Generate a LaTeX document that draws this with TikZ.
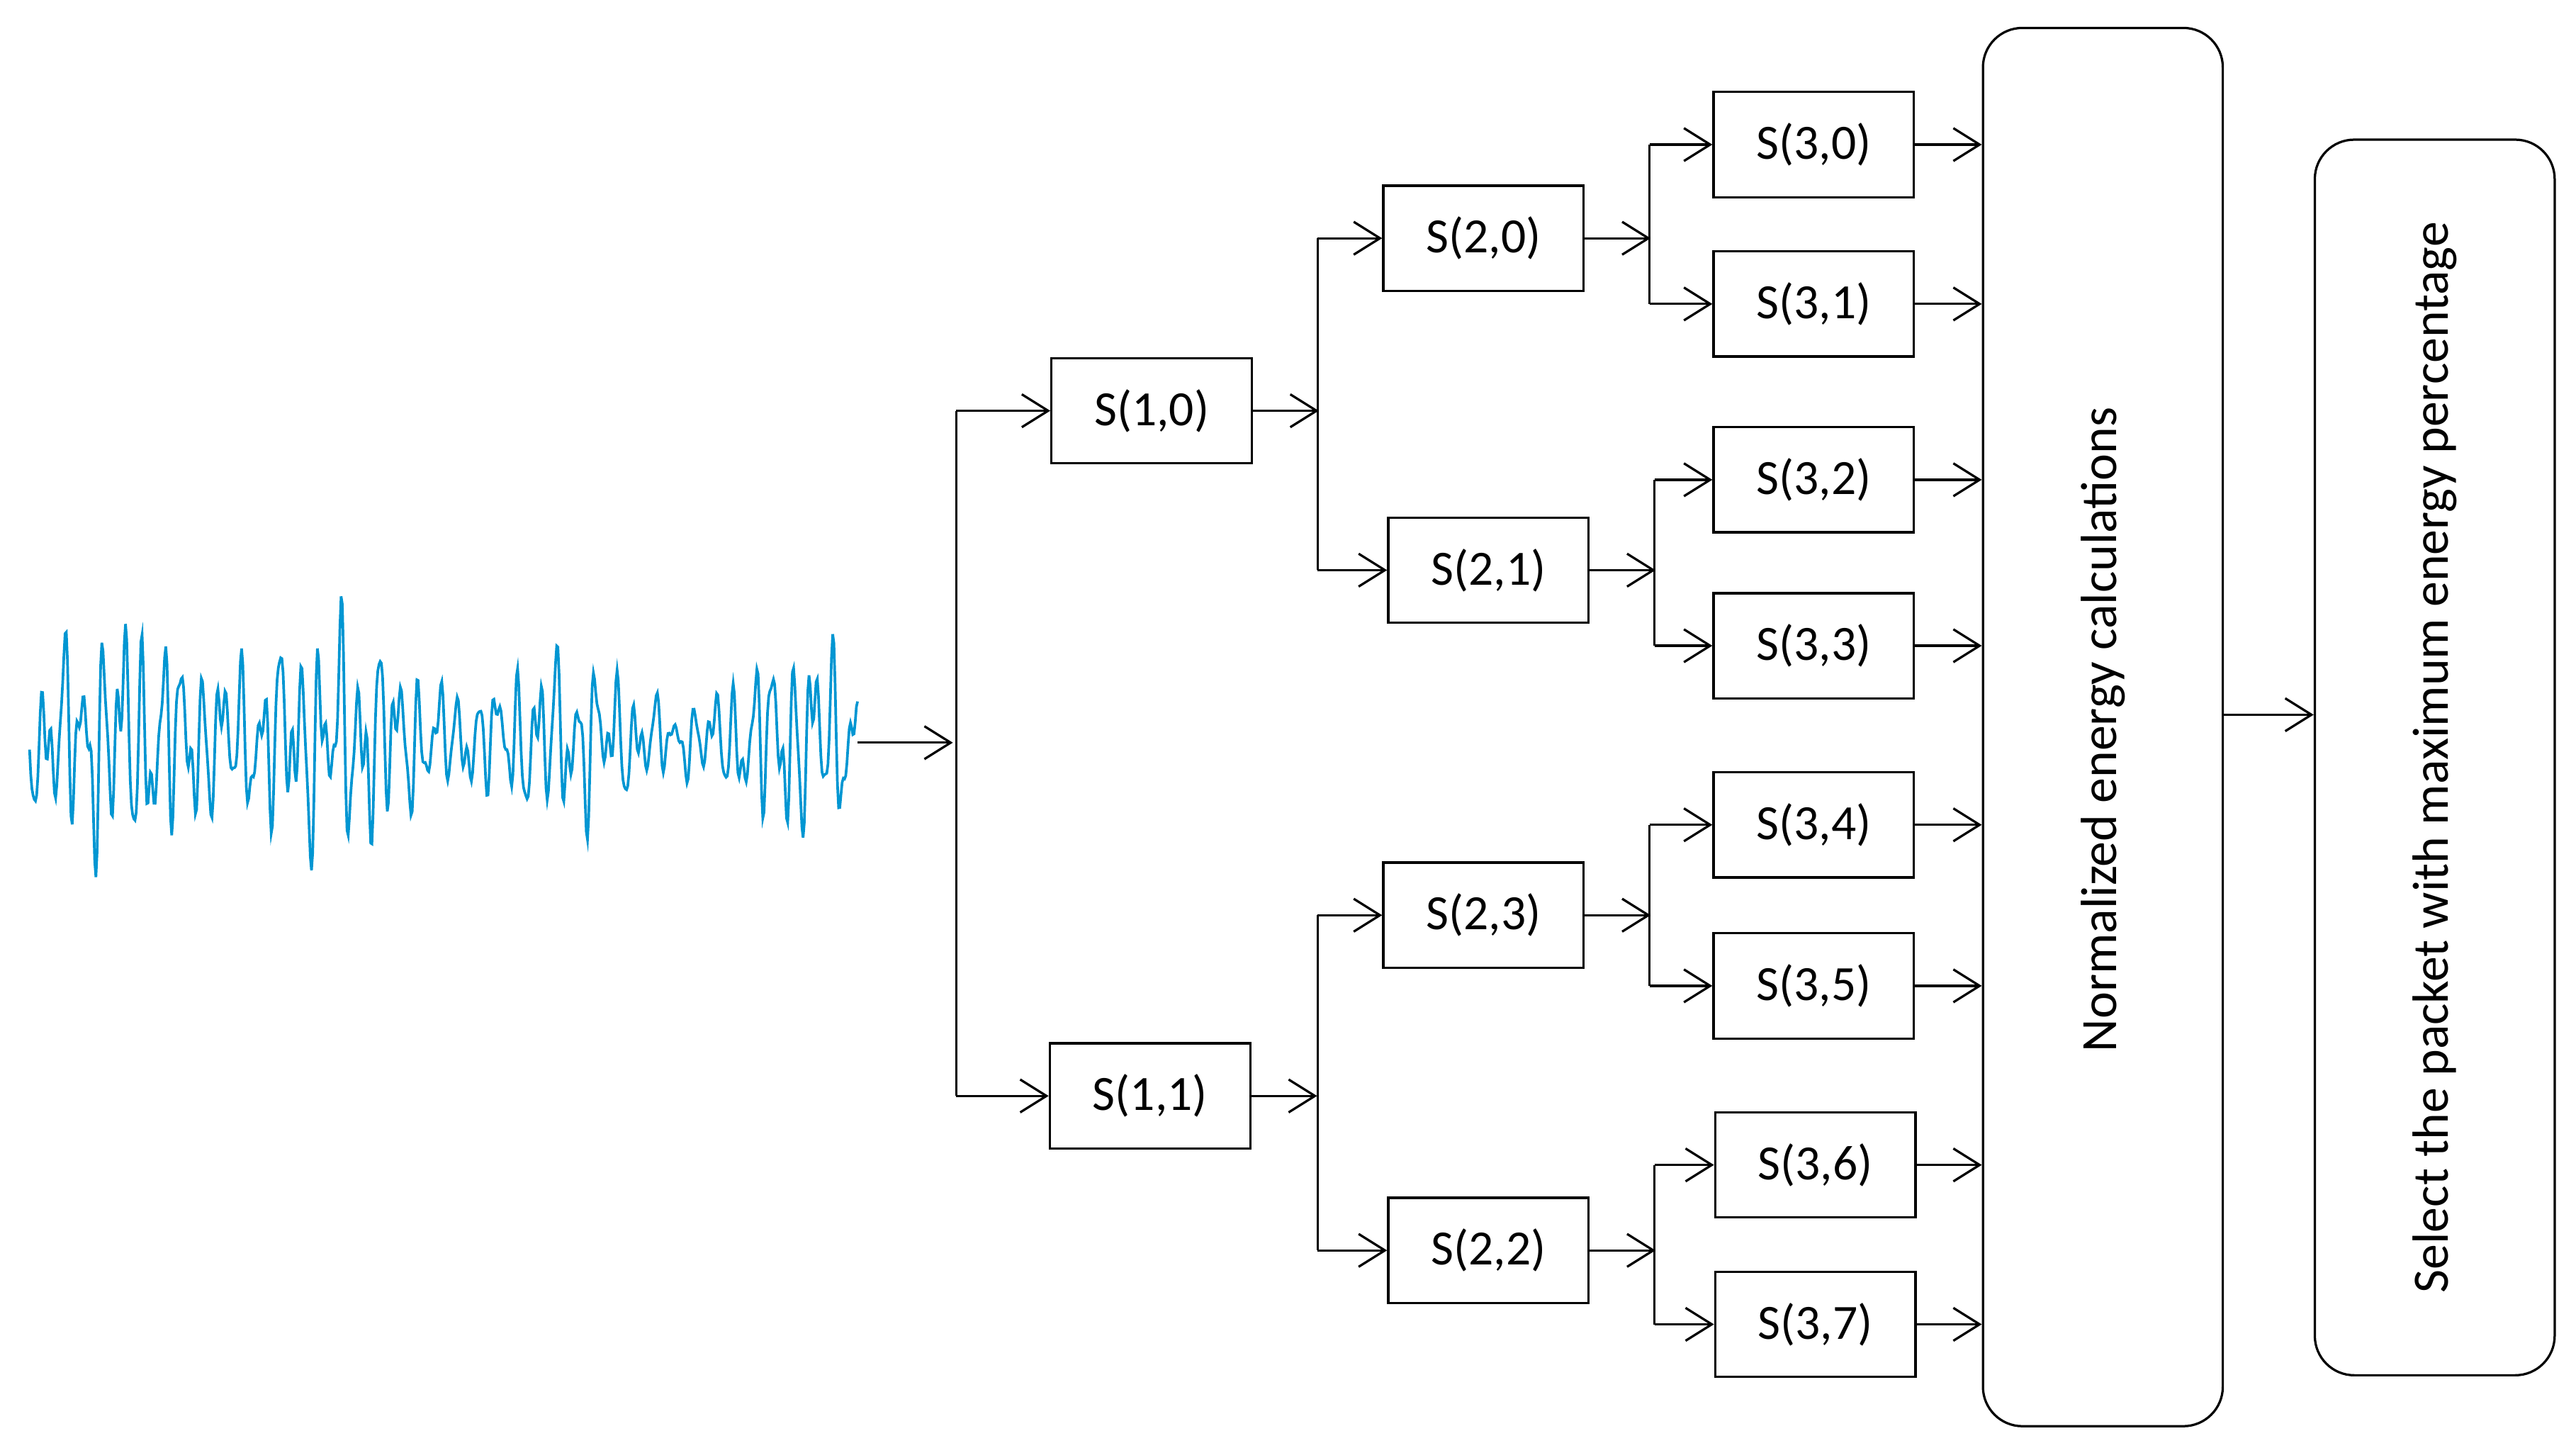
\documentclass[tikz,border=0pt]{standalone}
\usepackage{fontspec}
\setmainfont{Carlito}
\usetikzlibrary{arrows.meta}
\begin{document}
\begin{tikzpicture}[x=0.5pt,y=-0.5pt,
  declare function={
    wa(\t)=sin(30*mod(\t,12));
    wb(\t)=sin(47*mod(\t,7.6596)+30);
    wc(\t)=sin(71*mod(\t,5.0704)+70);
    wd(\t)=sin(11*mod(\t,32.7273));
    env(\t)=0.8+0.7*sin(1.3*\t)*sin(1.3*\t)+0.3*sin(0.7*\t);
  },
  sbox/.style={draw,line width=0.7pt,minimum width=61pt,minimum height=32pt,inner sep=0pt,font=\fontsize{15}{17}\selectfont},
  bigbox/.style={draw,line width=0.7pt,rounded corners=12pt,inner sep=0pt},
  conn/.style={line width=0.7pt,-{Straight Barb[length=8pt,width=10pt]}},
  ln/.style={line width=0.7pt}]
\useasboundingbox (0,0) rectangle (1568,881);
\fill[white] (0,0) rectangle (1568,881);
% signal
\draw[color={rgb,255:red,0;green,150;blue,210},line width=0.8pt]
  plot[samples=700,domain=18:522] (\x,{450-env(\x)*(25*wa(\x)+15*wb(\x)+10*wc(\x)+8*wd(\x))});
\coordinate (sigend) at (522,452);
\node[sbox] (s10) at (701,250) {S(1,0)};
\node[sbox] (s11) at (700,667) {S(1,1)};
\node[sbox] (s20) at (903,145) {S(2,0)};
\node[sbox] (s21) at (906,347) {S(2,1)};
\node[sbox] (s23) at (903,557) {S(2,3)};
\node[sbox] (s22) at (906,761) {S(2,2)};
\node[sbox] (s30) at (1104,88) {S(3,0)};
\node[sbox] (s31) at (1104,185) {S(3,1)};
\node[sbox] (s32) at (1104,292) {S(3,2)};
\node[sbox] (s33) at (1104,393) {S(3,3)};
\node[sbox] (s34) at (1104,502) {S(3,4)};
\node[sbox] (s35) at (1104,600) {S(3,5)};
\node[sbox] (s36) at (1105,709) {S(3,6)};
\node[sbox] (s37) at (1105,806) {S(3,7)};
\node[bigbox,minimum width=73pt,minimum height=425.5pt] (norm) at (1280,442.5) {};
\node[rotate=90,font=\fontsize{15.5}{17}\selectfont] at (1280,444) {Normalized energy calculations};
\node[bigbox,minimum width=73pt,minimum height=376pt] (sel) at (1482,461) {};
\node[rotate=90,font=\fontsize{15.5}{17}\selectfont] at (1482,461) {Select the packet with maximum energy percentage};
\coordinate (j0) at (580,452);
% level 0
\draw[conn] (sigend) -- (j0);
\draw[ln] (582,250) -- (582,667);
\draw[conn] (582,250) -- (s10.west);
\draw[conn] (582,667) -- (s11.west);
% level 1
\foreach \a/\b/\c in {s10/s20/s21, s11/s23/s22}{
  \draw[conn] (\a.east) -- ++(40,0);
  \draw[ln] (802,0 |- \b.west) -- (802,0 |- \c.west);
  \draw[conn] (802,0 |- \b.west) -- (\b.west);
  \draw[conn] (802,0 |- \c.west) -- (\c.west);
}
% level 2
\foreach \a/\b/\c/\x in {s20/s30/s31/1004, s21/s32/s33/1007, s23/s34/s35/1004, s22/s36/s37/1007}{
  \draw[conn] (\a.east) -- ++(40,0);
  \draw[ln] (\x,0 |- \b.west) -- (\x,0 |- \c.west);
  \draw[conn] (\x,0 |- \b.west) -- (\b.west);
  \draw[conn] (\x,0 |- \c.west) -- (\c.west);
}
% level 3
\foreach \n in {s30,s31,s32,s33,s34,s35,s36,s37}{
  \draw[conn] (\n.east) -- (\n.east -| norm.west);
}
\draw[conn] (norm.east |- 0,435) -- (sel.west |- 0,435);
\end{tikzpicture}
\end{document}
